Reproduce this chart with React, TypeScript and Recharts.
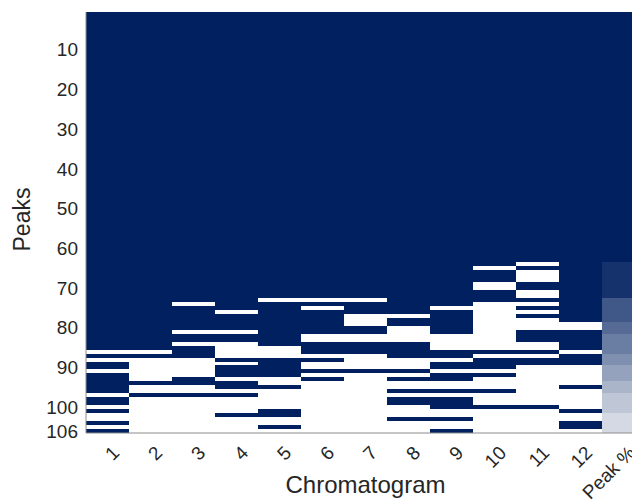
import { BarChart, Bar, Cell, XAxis, YAxis, Label } from 'recharts'

const NAVY = '#002060'
const TEXT = '#262626'
const FONT = '"Liberation Sans", Arial, sans-serif'
const PEAKS = 106

const chromatograms = ['1', '2', '3', '4', '5', '6', '7', '8', '9', '10', '11', '12']

// peaks NOT found in each chromatogram (white cells)
const missingPeaks: number[][] = [
  [86, 88, 91, 97, 100, 102, 103, 105],
  [86, 88, 89, 90, 91, 92, 93, 95, 96, 98, 99, 100, 101, 102, 103, 104, 105, 106],
  [74, 81, 84, 88, 89, 90, 91, 92, 95, 96, 98, 99, 100, 101, 102, 103, 104, 105, 106],
  [76, 81, 84, 85, 86, 87, 89, 93, 96, 98, 99, 100, 101, 103, 104, 105, 106],
  [73, 85, 86, 87, 93, 94, 96, 97, 98, 99, 100, 103, 104, 106],
  [73, 75, 82, 83, 87, 89, 90, 92, 94, 95, 96, 97, 98, 99, 100, 101, 102, 103, 104, 105, 106],
  [73, 77, 78, 79, 82, 83, 87, 88, 89, 90, 92, 93, 94, 95, 96, 97, 98, 99, 100, 101, 102, 103, 104, 105, 106],
  [77, 80, 81, 82, 83, 88, 89, 90, 92, 94, 95, 97, 100, 101, 102, 104, 105, 106],
  [75, 82, 83, 84, 85, 88, 91, 94, 95, 97, 101, 102, 104, 105],
  [65, 69, 70, 74, 75, 76, 77, 78, 79, 80, 81, 82, 83, 84, 85, 87, 91, 93, 94, 95, 97, 98, 99, 101, 102, 103, 104, 105, 106],
  [64, 66, 67, 68, 71, 72, 74, 76, 78, 79, 80, 84, 85, 87, 90, 91, 92, 93, 94, 95, 96, 97, 98, 99, 101, 102, 103, 104, 105, 106],
  [79, 80, 86, 90, 91, 92, 93, 94, 96, 97, 98, 99, 100, 102, 103, 106],
]

const yTicks = [10, 20, 30, 40, 50, 60, 70, 80, 90, 100, 106]

const columns = [...chromatograms, 'Peak %']
const peakIds = Array.from({ length: PEAKS }, (_, i) => i + 1)

const data = columns.map((name) => {
  const row: Record<string, string | number> = { name }
  peakIds.forEach((p) => { row[`p${p}`] = 1 })
  return row
})

// share of chromatograms in which each peak is present
const presentShare = peakIds.map(
  (p) => missingPeaks.filter((m) => !m.includes(p)).length / chromatograms.length
)

function XTick({ x, y, payload }: any) {
  const ax = x + 13
  const ay = y + 13
  return (
    <text
      x={ax}
      y={ay}
      textAnchor="end"
      fontSize={19}
      fontFamily={FONT}
      fill={TEXT}
      transform={`rotate(-45 ${ax} ${ay})`}
    >
      {payload.value}
    </text>
  )
}

function PeaksLabel({ viewBox }: any) {
  const cx = 14
  const cy = viewBox.y + viewBox.height / 2 - 3
  return (
    <text
      x={cx}
      y={cy}
      textAnchor="middle"
      dominantBaseline="central"
      fontSize={23}
      fontFamily={FONT}
      fill={TEXT}
      transform={`rotate(-90 ${cx} ${cy})`}
    >
      Peaks
    </text>
  )
}

export default function App() {
  return (
    <div style={{ width: 640, height: 496, overflow: 'hidden' }}>
      <style>{`html, body { overflow: hidden; } .recharts-bar-rectangle path { shape-rendering: crispEdges; }`}</style>
      <BarChart
        width={700}
        height={496}
        data={data}
        margin={{ top: 4, right: 63, left: 0, bottom: 0 }}
        barCategoryGap={0}
        barGap={0}
      >
        <XAxis
          dataKey="name"
          type="category"
          interval={0}
          tickLine={false}
          axisLine={{ stroke: '#8c8c8c' }}
          height={71}
          tick={<XTick />}
        >
          <Label
            value="Chromatogram"
            position="insideBottom"
            offset={11}
            fontSize={24}
            fontFamily={FONT}
            fill={TEXT}
          />
        </XAxis>
        <YAxis
          type="number"
          domain={[0, PEAKS]}
          reversed
          width={78}
          ticks={yTicks.map((t) => t - 0.5)}
          tickFormatter={(v: number) => String(v + 0.5)}
          interval={0}
          tickLine={false}
          tickSize={0}
          tickMargin={8}
          axisLine={{ stroke: '#8c8c8c' }}
          tick={{ fontSize: 19, fontFamily: FONT, fill: TEXT }}
          label={<PeaksLabel />}
        />
        {peakIds.map((p) => (
          <Bar key={p} dataKey={`p${p}`} stackId="peaks" isAnimationActive={false}>
            {columns.map((name, c) => {
              if (c < chromatograms.length) {
                const missing = missingPeaks[c].includes(p)
                return <Cell key={name} fill={missing ? '#ffffff' : NAVY} />
              }
              return <Cell key={name} fill={NAVY} fillOpacity={presentShare[p - 1]} />
            })}
          </Bar>
        ))}
      </BarChart>
    </div>
  )
}
